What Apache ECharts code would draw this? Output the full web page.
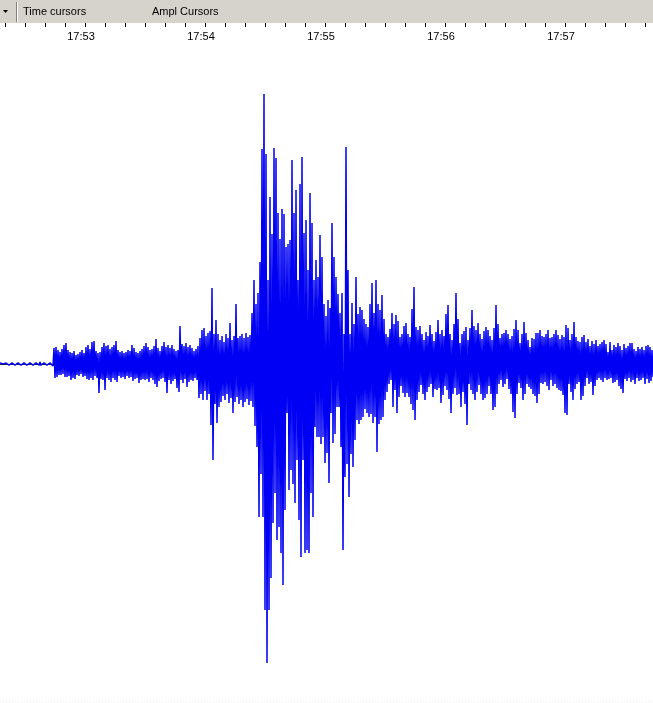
<!DOCTYPE html>
<html><head><meta charset="utf-8">
<script src="https://cdn.jsdelivr.net/npm/echarts@6/dist/echarts.min.js"></script>
<style>html,body{margin:0;padding:0;background:#fff;overflow:hidden}#c{width:653px;height:703px}</style>
</head><body><div id="c"></div>
<script>
// Seismogram trace: one positive and one negative peak per 1-second bin
const startSec = 17.5;   // first bin, seconds after 17:52:00
const binSec = 1;
const upPeaks = [
1,1,1,1,1,1,1,1,1,1, 1,1,1,1,1,1,1,1,1,1, 2,1,1,1,1,1,2,
16,17,14,12,15,19,21,14,12,11, 13,9,10,12,14,11,17,19,15,22, 23,13,11,12,17,21,18,19,15,17, 19,23,14,12,13,11,12,14,13,19, 16,12,11,13,15,18,21,17,14,15, 18,25,16,13,18,22,17,19,16,19, 15,13,14,38,20,18,21,17,19,16, 13,15,18,26,34,36,
28,31,33,76,30,44,30,24,28,22, 30,26,41,24,28,60,26,28,30,26, 31,27,29,51,84,60,71,102,215,270, 210,84,167,130,216,206,151,125,155,150, 117,120,124,204,151,174,84,180,207,131, 144,94,171,141,84,104,87,129,107,60, 48,64,56,141,107,87,70,51,71,30, 217,94,30,61,40,87,50,57,54,45, 40,37,60,81,51,84,60,54,
69,45,30,27,35,51,40,49,43,27, 30,38,41,30,27,55,77,37,34,38, 30,24,32,28,39,30,23,32,44,30, 34,28,50,59,30,24,40,71,45,21, 30,33,37,24,36,54,38,34,41,30, 25,33,37,34,28,24,36,59,40,26, 30,31,34,30,25,28,35,44,34,21, 30,42,31,24,17,26,25,31,31,34, 28,27,30,34,26,27,30,34,29,25, 29,27,39,36,24,30,42,27,23,22, 27,29,22,25,18,23,20,24,18,20, 22,24,20,12,22,14,19,17,21,18, 14,20,16,18,21,21,15,13,17,15, 17,14,18,19,17,14
];
const downPeaks = [
0,0,0,0,1,1,1,1,1,0, 1,1,1,1,1,1,1,1,1,1, 1,1,1,1,1,1,2,
14,13,11,11,10,13,13,12,16,14, 15,11,12,10,13,12,15,16,14,16, 12,14,29,15,16,26,14,16,18,14, 16,18,12,14,13,15,12,14,13,17, 15,14,19,16,15,16,15,18,14,16, 20,23,17,15,14,18,29,16,20,17, 15,24,28,16,19,15,23,18,16,17, 14,16,34,30,36,27,
36,30,61,96,40,59,43,38,32,36, 30,39,34,49,38,33,40,36,43,38, 35,41,37,43,62,83,153,110,153,246, 299,246,214,159,129,176,163,189,221,146, 49,126,106,120,139,96,156,193,96,189, 186,189,129,153,63,73,73,80,73,99, 89,119,49,79,70,43,43,83,186,113, 100,133,90,103,76,56,60,56,53,45, 49,53,50,59,53,88,60,56,
53,36,28,20,16,43,26,49,33,22, 29,33,29,33,40,46,56,36,28,21, 30,36,28,23,20,33,25,26,24,39, 31,22,26,35,49,30,24,31,30,43, 28,40,61,20,26,30,36,28,21,30, 36,34,30,22,30,46,43,30,20,16, 23,20,15,25,30,48,54,30,19,24, 36,30,20,23,25,30,32,39,30,19, 20,18,22,26,16,22,20,24,26,27, 31,49,51,20,28,36,25,20,18,36, 32,22,14,20,18,31,22,16,14,16, 18,14,16,15,14,19,18,16,22,25, 29,15,17,14,18,16,20,14,17,16, 14,20,15,19,17,13
];
const majorTicks = [60, 120, 180, 240, 300];
const majorLabels = ['17:53', '17:54', '17:55', '17:56', '17:57'];
const minorTicks = [20,30,40,50,60,70,80,90,100,110,120,130,140,150,160,170,180,190,200,210,220,230,240,250,260,270,280,290,300,310,320,330,340];
const toolbarLabels = ['Time cursors', 'Ampl Cursors'];

const trace = [];
for (let i = 0; i < upPeaks.length; i++) {
  const t = startSec + i * binSec;
  trace.push([t, upPeaks[i]]);
  trace.push([t + binSec / 2, -downPeaks[i]]);
}
const tMin = 17.5, tMax = 344;

const chart = echarts.init(document.getElementById('c'), null, {renderer: 'canvas'});
chart.setOption({
  animation: false,
  backgroundColor: '#ffffff',
  grid: {left: 0, right: 0, top: 23, bottom: 0, containLabel: false},
  xAxis: [{
    type: 'value', position: 'top', min: tMin, max: tMax,
    axisLine: {show: true, lineStyle: {color: '#303030', width: 1}},
    axisTick: {show: true, inside: true, length: 9, customValues: majorTicks, lineStyle: {color: '#000'}},
    axisLabel: {show: true, inside: true, margin: 8, customValues: majorTicks,
      formatter: v => majorLabels[majorTicks.indexOf(v)] || '',
      color: '#000', fontSize: 11, fontFamily: 'Liberation Sans', padding: [0, 8, 0, 0]},
    splitLine: {show: false}
  }, {
    type: 'value', position: 'top', min: tMin, max: tMax,
    axisLine: {show: false},
    axisTick: {show: true, inside: true, length: 4, customValues: minorTicks, lineStyle: {color: '#000'}},
    axisLabel: {show: false},
    splitLine: {show: false}
  }],
  yAxis: {type: 'value', min: -339, max: 341, show: false, splitLine: {show: false}},
  series: [{
    type: 'line', xAxisIndex: 0, data: trace, showSymbol: false, symbol: 'none',
    lineStyle: {color: '#0000f4', width: 1.5, join: 'miter', miterLimit: 2}, z: 2
  }],
  graphic: [
    {type: 'rect', shape: {x: 0, y: 0, width: 653, height: 23}, style: {fill: '#d6d3cd'}, z: 0},
    {type: 'polygon', shape: {points: [[3, 10], [8, 10], [5.5, 13]]}, style: {fill: '#000'}},
    {type: 'line', shape: {x1: 16.5, y1: 2, x2: 16.5, y2: 22}, style: {stroke: '#808080', lineWidth: 1}},
    {type: 'line', shape: {x1: 17.5, y1: 2, x2: 17.5, y2: 22}, style: {stroke: '#ffffff', lineWidth: 1}},
    {type: 'text', x: 23, y: 6, style: {text: toolbarLabels[0], fill: '#000', font: '11px "Liberation Sans"'}},
    {type: 'text', x: 152, y: 6, style: {text: toolbarLabels[1], fill: '#000', font: '11px "Liberation Sans"'}},
    {type: 'line', shape: {x1: 0, y1: 701.5, x2: 653, y2: 701.5}, style: {stroke: '#ececec', lineWidth: 1, lineDash: [1, 2]}}
  ]
});
</script>
</body></html>
